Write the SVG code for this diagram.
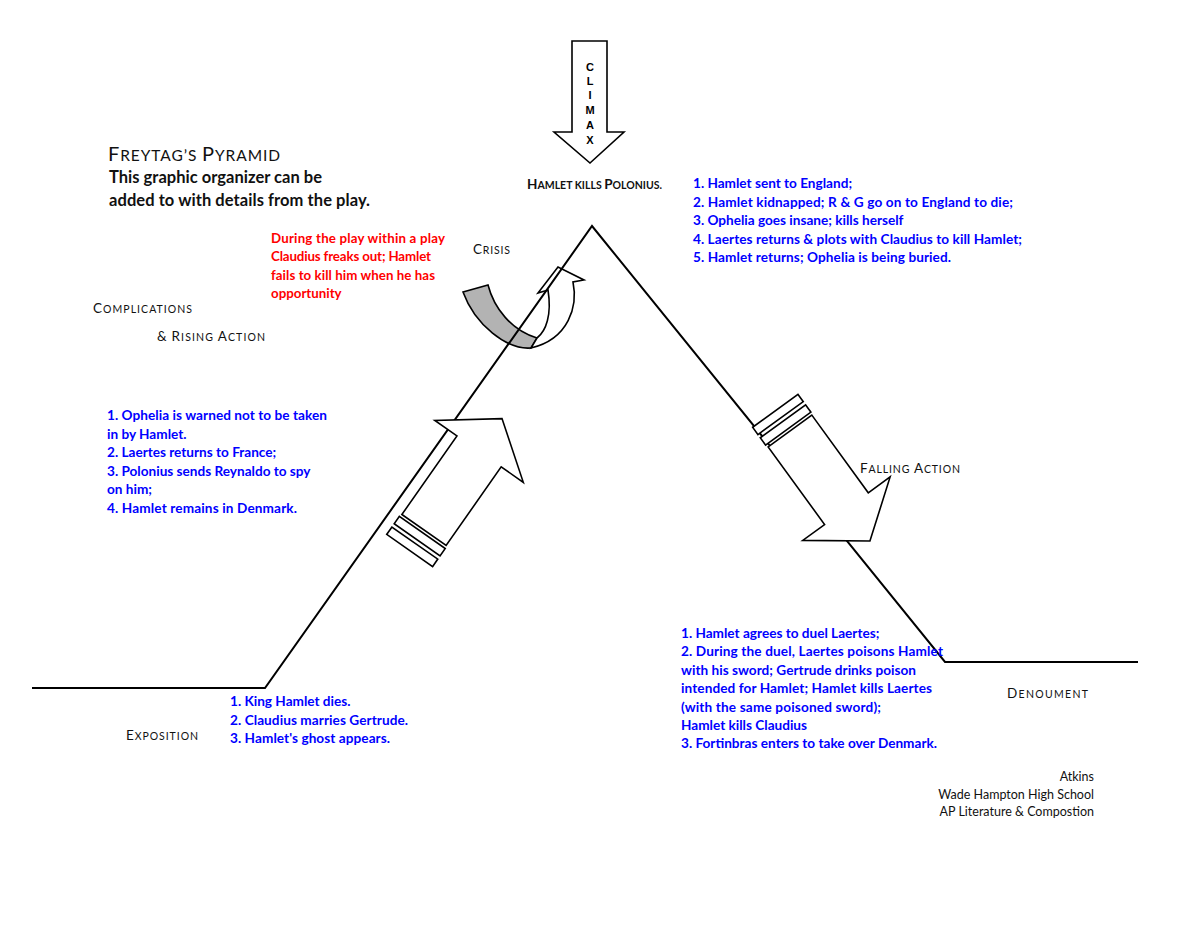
<svg xmlns="http://www.w3.org/2000/svg" width="1200" height="927" viewBox="0 0 1200 927">
<style>
.sc{font-family:Lato,"Liberation Sans",sans-serif;fill:#111;font-size:10.5px}
.sc .b{font-size:13.5px}
.blue{font-family:Lato,"Liberation Sans",sans-serif;font-weight:bold;font-size:13.6px;fill:#0000ff}
.red{font-family:Lato,"Liberation Sans",sans-serif;font-weight:bold;font-size:13.3px;fill:#ff0000}
.head{font-family:Lato,"Liberation Sans",sans-serif;font-weight:bold;font-size:16.5px;fill:#111}
.sig{font-family:Lato,"Liberation Sans",sans-serif;font-size:12.5px;fill:#111}
.clx{font-family:"Liberation Sans",Arial,sans-serif;font-weight:bold;font-size:11px;fill:#000}
.ln{fill:none;stroke:#000;stroke-width:2}
.arr{fill:#fff;stroke:#000;stroke-width:1.6;stroke-linejoin:miter}
</style>
<defs>
<g id="blockArrow">
<path class="arr" d="M0,-27 H96 V-54 L136,0 L96,54 V27 H0 Z"/>
<rect class="arr" x="-12" y="-28" width="9" height="56"/>
<rect class="arr" x="-25" y="-28" width="9" height="56"/>
</g>
</defs>
<rect width="1200" height="927" fill="#fff"/>

<g id="crisis-arrow">
<path d="M463,292 L488,285 C494,308 511,330 537,338 L531,348 C507,350 475,325 463,292 Z" fill="#b3b3b3" stroke="#000" stroke-width="1.6"/>
<path d="M537,338 C546,331 552,315 548,290 L538,293 L558,267 L584,280 L573,282 C578,306 569,339 531,348 Z" fill="#fff" stroke="#000" stroke-width="1.6"/>
</g>

<g id="connectors">
<polyline class="ln" points="32,688 265,688 592,226 945,662 1138,662"/>
</g>

<g id="rising-arrow">
<use href="#blockArrow" transform="translate(424,530) rotate(-55)"/>
</g>
<g id="falling-arrow">
<use href="#blockArrow" transform="translate(790,431) rotate(54)"/>
</g>

<g id="climax">
<polygon class="arr" points="572,41 607,41 607,132 624,132 590,163 554,132 572,132"/>
<text class="clx" text-anchor="middle"><tspan x="590" y="70.5">C</tspan><tspan x="590" y="85">L</tspan><tspan x="590" y="99">I</tspan><tspan x="590" y="113.5">M</tspan><tspan x="590" y="128.5">A</tspan><tspan x="590" y="143.5">X</tspan></text>
</g>

<g id="title">
<text class="sc" x="108" y="161" textLength="172" style="font-size:15.5px"><tspan style="font-size:20px">F</tspan>REYTAG’S <tspan style="font-size:20px">P</tspan>YRAMID</text>
<text class="head" x="109" y="183" textLength="213">This graphic organizer can be</text>
<text class="head" x="109" y="206" textLength="261">added to with details from the play.</text>
</g>

<g id="climax-label">
<text class="sc" x="527" y="189" textLength="135" style="font-weight:bold"><tspan class="b">H</tspan>AMLET KILLS <tspan class="b">P</tspan>OLONIUS.</text>
</g>

<g id="crisis-label">
<text class="sc" x="473" y="254" textLength="37"><tspan class="b">C</tspan>RISIS</text>
</g>

<g id="crisis-notes">
<text class="red" x="271" y="242.5" textLength="174">During the play within a play</text>
<text class="red" x="271" y="261" textLength="160">Claudius freaks out; Hamlet</text>
<text class="red" x="271" y="279.5" textLength="164">fails to kill him when he has</text>
<text class="red" x="271" y="298">opportunity</text>
</g>

<g id="complications-label">
<text class="sc" x="93" y="313" textLength="99"><tspan class="b">C</tspan>OMPLICATIONS</text>
<text class="sc" x="157" y="341" textLength="108"><tspan class="b">&amp;</tspan> <tspan class="b">R</tspan>ISING <tspan class="b">A</tspan>CTION</text>
</g>

<g id="falling-notes">
<text class="blue" x="693" y="188">1. Hamlet sent to England;</text>
<text class="blue" x="693" y="206.5" textLength="320">2. Hamlet kidnapped; R &amp; G go on to England to die;</text>
<text class="blue" x="693" y="225">3. Ophelia goes insane; kills herself</text>
<text class="blue" x="693" y="243.5" textLength="329">4. Laertes returns &amp; plots with  Claudius to kill Hamlet;</text>
<text class="blue" x="693" y="262" textLength="258">5. Hamlet returns; Ophelia is being buried.</text>
</g>

<g id="rising-notes">
<text class="blue" x="107" y="420" textLength="220">1. Ophelia is warned not to be taken</text>
<text class="blue" x="107" y="438.5">in by Hamlet.</text>
<text class="blue" x="107" y="457">2. Laertes returns to France;</text>
<text class="blue" x="107" y="475.5">3. Polonius sends Reynaldo to spy</text>
<text class="blue" x="107" y="494">on him;</text>
<text class="blue" x="107" y="512.5" textLength="190">4. Hamlet remains in Denmark.</text>
</g>

<g id="falling-label">
<text class="sc" x="860" y="473" textLength="100"><tspan class="b">F</tspan>ALLING <tspan class="b">A</tspan>CTION</text>
</g>

<g id="exposition">
<text class="sc" x="126" y="740" textLength="72"><tspan class="b">E</tspan>XPOSITION</text>
<text class="blue" x="230" y="706">1. King Hamlet dies.</text>
<text class="blue" x="230" y="724.5" textLength="178">2. Claudius marries Gertrude.</text>
<text class="blue" x="230" y="743" textLength="160">3. Hamlet's ghost appears.</text>
</g>

<g id="resolution-notes">
<text class="blue" x="681" y="638">1. Hamlet agrees to duel Laertes;</text>
<text class="blue" x="681" y="656.4" textLength="262">2. During the duel, Laertes poisons Hamlet</text>
<text class="blue" x="681" y="674.8" textLength="235">with his sword; Gertrude drinks poison</text>
<text class="blue" x="681" y="693.2" textLength="251">intended for Hamlet; Hamlet kills Laertes</text>
<text class="blue" x="681" y="711.6" textLength="200">(with the same poisoned sword);</text>
<text class="blue" x="681" y="730">Hamlet kills Claudius</text>
<text class="blue" x="681" y="748.4" textLength="256">3. Fortinbras enters to take over Denmark.</text>
</g>

<g id="denouement">
<text class="sc" x="1007" y="698" textLength="81"><tspan class="b">D</tspan>ENOUMENT</text>
</g>

<g id="credits">
<text class="sig" x="1094" y="781" text-anchor="end">Atkins</text>
<text class="sig" x="1094" y="798.5" text-anchor="end">Wade Hampton High School</text>
<text class="sig" x="1094" y="816" text-anchor="end">AP Literature &amp; Compostion</text>
</g>
</svg>
